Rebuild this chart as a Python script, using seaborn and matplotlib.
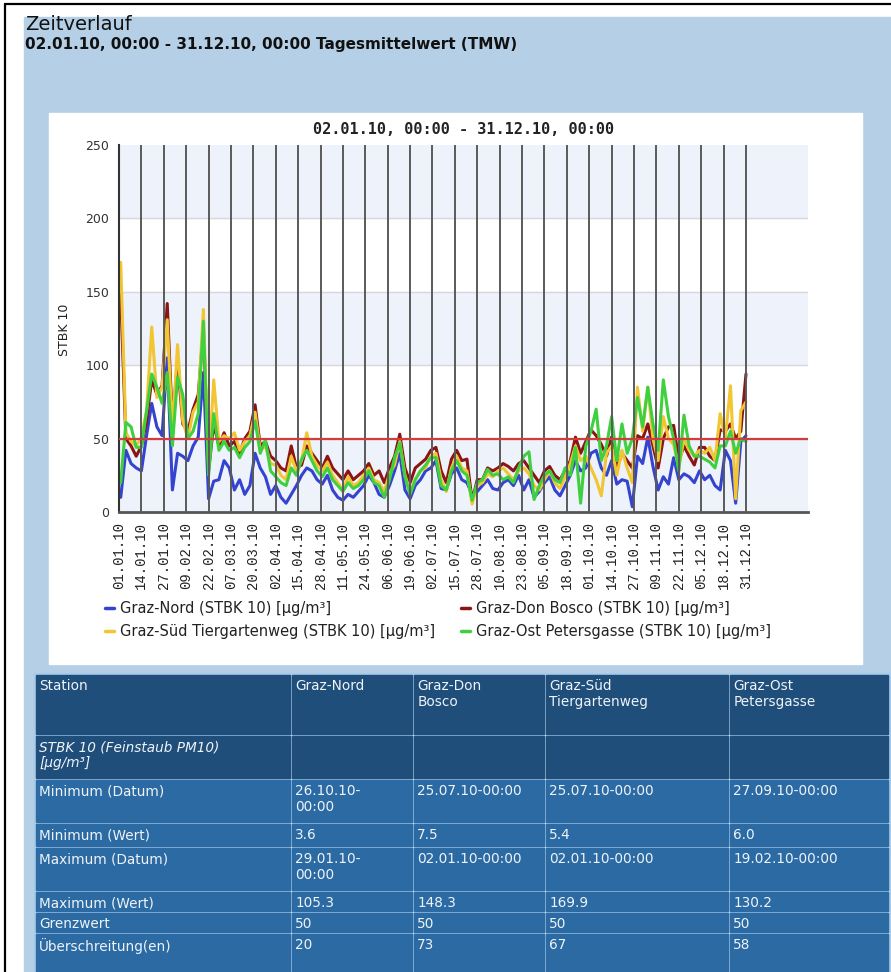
import matplotlib
matplotlib.use("Agg")
import matplotlib.pyplot as plt
from matplotlib.patches import Rectangle
from matplotlib.lines import Line2D
import seaborn as sns
import pandas as pd

sns.set_style("white")
plt.rcParams["font.family"] = ["DejaVu Sans"]

# ---- data (3-day samples, 02.01.10 - 31.12.10) ----
dates = pd.date_range("2010-01-02", "2010-12-31", freq="3D")

stations = ["Graz-Nord", "Graz-Don Bosco", "Graz-Süd Tiergartenweg", "Graz-Ost Petersgasse"]
colors = ["#3443d0", "#8b1414", "#f2c532", "#3fd03f"]

nord = [10, 42, 33, 30, 28, 52, 74, 58, 52, 105,
        15, 40, 38, 35, 45, 51, 95, 9, 21, 22,
        35, 30, 15, 22, 12, 18, 40, 30, 24, 12,
        18, 10, 6, 12, 18, 25, 30, 28, 22, 19,
        25, 15, 10, 8, 12, 10, 14, 18, 25, 20,
        12, 10, 18, 28, 40, 15, 9, 18, 22, 28,
        30, 35, 16, 15, 26, 30, 22, 20, 12, 14,
        18, 22, 16, 15, 20, 22, 18, 25, 15, 22,
        10, 14, 20, 24, 15, 11, 18, 25, 35, 28,
        30, 40, 42, 30, 25, 35, 19, 22, 21, 3.6,
        38, 33, 51, 31, 15, 24, 19, 37, 22, 26,
        24, 20, 28, 22, 25, 18, 15, 42, 35, 6,
        48, 52]
don_bosco = [148, 50, 45, 38, 45, 62, 90, 80, 86, 142,
             60, 103, 60, 55, 70, 80, 125, 28, 60, 45,
             54, 45, 48, 40, 50, 55, 73, 45, 48, 38,
             35, 30, 28, 45, 30, 32, 45, 40, 35, 30,
             38, 30, 26, 22, 28, 22, 25, 28, 33, 25,
             28, 20, 30, 38, 53, 30, 20, 30, 33, 36,
             42, 44, 28, 20, 36, 42, 35, 36, 7.5, 22,
             22, 30, 28, 30, 33, 31, 28, 33, 35, 30,
             25, 20, 28, 31, 25, 22, 28, 35, 51, 40,
             48, 56, 52, 46, 38, 51, 30, 40, 35, 30,
             52, 50, 60, 45, 30, 50, 58, 59, 35, 45,
             38, 32, 44, 44, 38, 35, 56, 55, 60, 50,
             55, 94]
sued = [170, 54, 48, 45, 51, 69, 126, 78, 85, 131,
        55, 114, 62, 50, 68, 75, 138, 30, 90, 48,
        52, 50, 54, 42, 48, 52, 68, 42, 45, 33,
        32, 25, 22, 38, 28, 35, 54, 38, 32, 28,
        34, 25, 20, 15, 24, 18, 20, 25, 30, 22,
        20, 14, 26, 32, 48, 25, 14, 22, 28, 30,
        38, 40, 22, 14, 30, 38, 30, 28, 5.4, 18,
        20, 26, 24, 28, 30, 26, 22, 28, 30, 26,
        18, 15, 22, 28, 20, 16, 24, 33, 45, 35,
        38, 30, 22, 11, 40, 45, 25, 42, 30, 20,
        85, 55, 85, 50, 35, 65, 50, 46, 30, 50,
        42, 38, 42, 40, 44, 35, 67, 50, 86, 9,
        69, 75]
ost = [20, 61, 58, 44, 44, 69, 94, 85, 74, 95,
       45, 92, 80, 50, 55, 67, 130, 25, 67, 42,
       48, 42, 44, 37, 44, 48, 62, 40, 49, 28,
       24, 20, 18, 30, 25, 36, 42, 35, 28, 24,
       30, 22, 18, 14, 20, 16, 18, 22, 28, 20,
       18, 10, 22, 37, 47, 24, 12, 22, 28, 32,
       37, 37, 18, 15, 28, 35, 28, 25, 8, 20,
       22, 29, 25, 26, 22, 24, 20, 30, 38, 41,
       8.5, 18, 25, 28, 22, 20, 30, 25, 44, 6,
       45, 55, 70, 35, 45, 65, 35, 60, 40, 50,
       78, 58, 85, 60, 42, 90, 65, 50, 28, 66,
       45, 38, 38, 36, 34, 30, 45, 45, 55, 40,
       50, 48]

limit_value = 50
tick_dates = pd.date_range("2010-01-01", periods=29, freq="13D")

# table content
table_header = ["Station", "Graz-Nord", "Graz-Don\nBosco", "Graz-Süd\nTiergartenweg", "Graz-Ost\nPetersgasse"]
row_labels = ["STBK 10 (Feinstaub PM10)\n[µg/m³]", "Minimum (Datum)", "Minimum (Wert)",
              "Maximum (Datum)", "Maximum (Wert)", "Grenzwert", "Überschreitung(en)"]
min_dates = ["26.10.10-\n00:00", "25.07.10-00:00", "25.07.10-00:00", "27.09.10-00:00"]
min_values = ["3.6", "7.5", "5.4", "6.0"]
max_dates = ["29.01.10-\n00:00", "02.01.10-00:00", "02.01.10-00:00", "19.02.10-00:00"]
max_values = ["105.3", "148.3", "169.9", "130.2"]
limits = ["50", "50", "50", "50"]
exceedances = ["20", "73", "67", "58"]

df = pd.DataFrame({
    "Datum": list(dates) * 4,
    "Wert": nord + don_bosco + sued + ost,
    "Station": [s for s in stations for _ in range(len(dates))],
})

# ---- page ----
W, H = 891, 972
BG = "#b4cfe6"
fig = plt.figure(figsize=(W / 100, H / 100), dpi=100)
page = fig.add_axes([0, 0, 1, 1], zorder=0)
page.set_xlim(0, W)
page.set_ylim(H, 0)
page.axis("off")
page.add_patch(Rectangle((24, 17), W - 24, H - 17, color=BG))
page.add_patch(Rectangle((49, 113), 813, 551, color="white"))
page.plot([5, 5], [4, H], color="black", lw=1.6)
page.plot([5, W], [4, 4], color="black", lw=1.6)

page.text(25, 25, "Zeitverlauf", fontsize=14, va="center", color="#111")
page.text(25, 45, "02.01.10, 00:00 - 31.12.10, 00:00 Tagesmittelwert (TMW)",
          fontsize=11, weight="bold", va="center", color="#111")
page.text(464, 130, "02.01.10, 00:00 - 31.12.10, 00:00", family="DejaVu Sans Mono",
          weight="bold", fontsize=11, ha="center", va="center", color="#222")
page.text(64, 330, "STBK 10", rotation=90, fontsize=9, ha="center", va="center", color="#222")

# table
col_x = [35, 291, 413, 545, 729, 889]
row_y = [674, 735, 779, 823, 847, 891, 912, 933, 980]
body = [[""] * 4, min_dates, min_values, max_dates, max_values, limits, exceedances]
rows = [table_header] + [[lab] + vals for lab, vals in zip(row_labels, body)]
page.add_patch(Rectangle((col_x[0] - 1.5, row_y[0] - 1.5), col_x[-1] - col_x[0] + 3,
                         row_y[-1] - row_y[0], color="#a9cbea"))
for r, cells in enumerate(rows):
    fill = "#1f4e7b" if r < 2 else "#2b6aa3"
    for c, txt in enumerate(cells):
        x0, x1 = col_x[c] + 1.2, col_x[c + 1] - 1.2
        y0, y1 = row_y[r] + 1.2, row_y[r + 1] - 1.2
        page.add_patch(Rectangle((x0, y0), x1 - x0, y1 - y0, color=fill))
        page.text(x0 + 3, y0 + 4, txt, fontsize=9.8, color="#eef3f8", va="top", ha="left",
                  linespacing=1.2, style="italic" if r == 1 else "normal")

# ---- chart ----
ax = fig.add_axes([119 / W, 1 - 512 / H, 689 / W, 367 / H], zorder=1)
for lo in (0, 100, 200):
    ax.axhspan(lo, lo + 50, color="#eef2fb", zorder=0)
for y in (50, 100, 150, 200):
    ax.axhline(y, color="#d6d8de", lw=1, zorder=0.5)

sns.lineplot(data=df, x="Datum", y="Wert", hue="Station", hue_order=stations,
             palette=dict(zip(stations, colors)), estimator=None, lw=2.2,
             legend=False, ax=ax, zorder=2)

for t in tick_dates[1:]:
    ax.axvline(t, color="#5a5a5a", lw=1.4, zorder=3)
ax.axhline(limit_value, color="#d23c3c", lw=1.6, zorder=4)

ax.set_xlim(tick_dates[0], tick_dates[0] + pd.Timedelta(days=400))
ax.set_ylim(0, 250)
ax.set_xticks(tick_dates)
ax.set_xticklabels([d.strftime("%d.%m.%y") for d in tick_dates], rotation=90,
                   family="Liberation Mono", fontsize=10, color="#222")
ax.set_yticks(range(0, 251, 50))
ax.set_yticks(range(0, 251, 10), minor=True)
ax.tick_params(axis="y", which="major", direction="inout", length=8, width=1.2,
               color="#333", labelsize=9, labelcolor="#333", pad=3)
ax.tick_params(axis="y", which="minor", direction="in", length=4, width=1, color="#333")
ax.tick_params(axis="x", length=3, width=1, color="#555", pad=4)
ax.set_xlabel("")
ax.set_ylabel("")
for side in ("top", "right"):
    ax.spines[side].set_visible(False)
ax.spines["left"].set_color("#333")
ax.spines["left"].set_linewidth(1.5)
ax.spines["bottom"].set_color("#555")
ax.spines["bottom"].set_linewidth(2)

# legend (column-major order for two rows)
order = [0, 2, 1, 3]
handles = [Line2D([], [], color=colors[i], lw=2.5) for i in order]
labels = [stations[i] + " (STBK 10) [µg/m³]" for i in order]
ax.legend(handles, labels, ncol=2, loc="upper left", bbox_to_anchor=(98 / W, 1 - 594 / H),
          bbox_transform=fig.transFigure, frameon=False, fontsize=10.5, handlelength=0.6,
          handletextpad=0.4, columnspacing=1.8, labelspacing=0.55, borderpad=0,
          labelcolor="#222")

fig.savefig("out.png", dpi=100)
